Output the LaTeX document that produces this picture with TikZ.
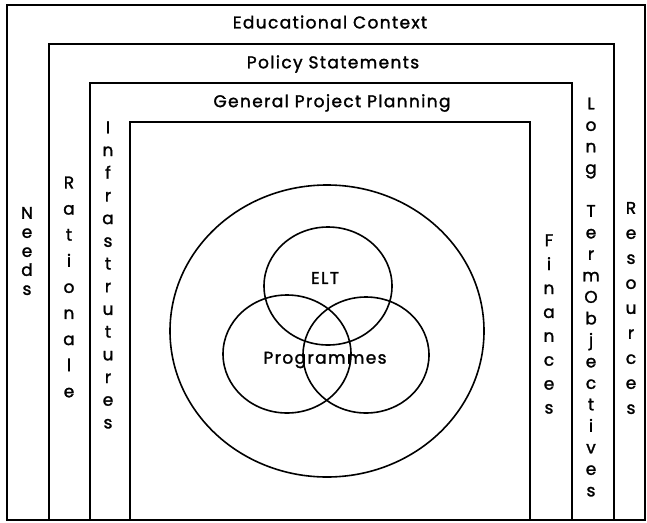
\documentclass[tikz,border=0pt]{standalone}
\usepackage{fontspec}
\setmainfont{Poppins}[FakeBold=1.6,LetterSpace=8]
\begin{document}
\begin{tikzpicture}[x=1pt,y=-1pt,line width=1.4pt,
    lbl/.style={font=\fontsize{17}{19}\selectfont},
    col/.style={align=center,inner sep=0pt,font=\fontsize{17}{#1}\selectfont}]
      \useasboundingbox (0,0) rectangle (647,522);
      % frames
      \draw (7,5) rectangle (645,520);
      \draw (49,520) -- (49,44) -- (614,44) -- (614,520);
      \draw (90,520) -- (90,83) -- (572,83) -- (572,520);
      \draw (130,520) -- (130,122) -- (530,122) -- (530,520);
      % headings
      \draw
        (330,22) node[lbl] (context){Educational Context}
        (333,64) node[lbl] (policy){Policy Statements}
        (332,103) node[lbl] (planning){General Project Planning};
      % side columns
      \draw
        (27,251) node[col=19] (needs){N\\e\\e\\d\\s}
        (69,287) node[col=26.1] (rationale){R\\a\\t\\i\\o\\n\\a\\l\\e}
        (108,275) node[col=22.7] (infra){I\\n\\f\\r\\a\\s\\t\\r\\u\\t\\u\\r\\e\\s}
        (549,324) node[col=23.9] (finances){F\\i\\n\\a\\n\\c\\e\\s}
        (591,297) node[col=21.5] (longterm){L\\o\\n\\g\\[21.5pt]T\\e\\r\\m\\O\\b\\j\\e\\c\\t\\i\\v\\e\\s}
        (631,308) node[col=25] (resources){R\\e\\s\\o\\u\\r\\c\\e\\s};
      % circles
      \begin{scope}[line width=1.6pt]
        \draw (327,331) ellipse (157 and 146);
        \draw (328,286) ellipse (64 and 59);
        \draw (287,354) ellipse (64 and 59);
        \draw (366,355) ellipse (63 and 58);
      \end{scope}
      \draw
        (325,278) node[lbl] (elt){ELT}
        (325,360) node[lbl] (progs){Programmes};
    \end{tikzpicture}
\end{document}
